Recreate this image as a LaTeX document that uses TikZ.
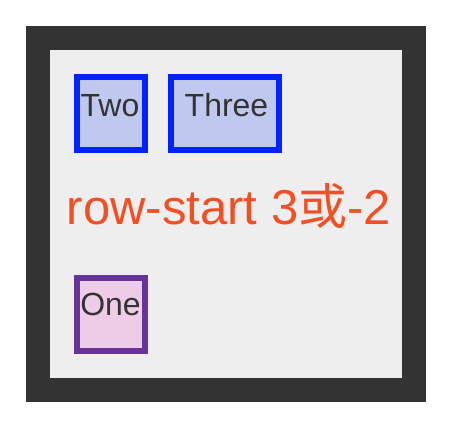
\documentclass[tikz,border=0pt]{standalone}
\usepackage{fontspec}
\setmainfont{Liberation Sans}
\newfontfamily\cjk{Noto Sans CJK SC}
\definecolor{framedark}{HTML}{333333}
\definecolor{innergray}{HTML}{EEEEEE}
\definecolor{boxblue}{HTML}{0022FF}
\definecolor{fillblue}{HTML}{C0C8F0}
\definecolor{boxpurple}{HTML}{663399}
\definecolor{fillpink}{HTML}{EECCE8}
\definecolor{textdark}{HTML}{333333}
\definecolor{redtext}{HTML}{F05024}
\tikzset{
  bluebox/.style={draw=boxblue, fill=fillblue, line width=6pt, inner sep=0pt, minimum height=73pt},
  purplebox/.style={draw=boxpurple, fill=fillpink, line width=6pt, inner sep=0pt, minimum height=73pt},
  boxlabel/.style={anchor=base, inner sep=0pt, text=textdark, font=\fontsize{32}{38}\selectfont},
  biglabel/.style={anchor=base, inner sep=0pt, text=redtext, font=\fontsize{49}{58}\selectfont}
}
\begin{document}
\begin{tikzpicture}[x=1pt,y=-1pt]
\useasboundingbox (0,0) rectangle (462,430);
\fill[white] (0,0) rectangle (462,430);
\fill[framedark] (26,26) rectangle (426,402);
\fill[innergray] (50,50) rectangle (402,378);
\node[bluebox, minimum width=68pt] (twobox) at (111,113.7) {};
\node[bluebox, minimum width=108pt] (threebox) at (225,113.7) {};
\node[purplebox, minimum width=68pt] (onebox) at (111,314) {};
\node[boxlabel] (twotext) at (110,116.7) {Two};
\node[boxlabel] (threetext) at (226.5,116.7) {Three};
\node[boxlabel] (onetext) at (110.5,315.7) {One};
\node[biglabel] (title) at (229,224) {row-start 3{\cjk 或}-2};
\end{tikzpicture}
\end{document}
